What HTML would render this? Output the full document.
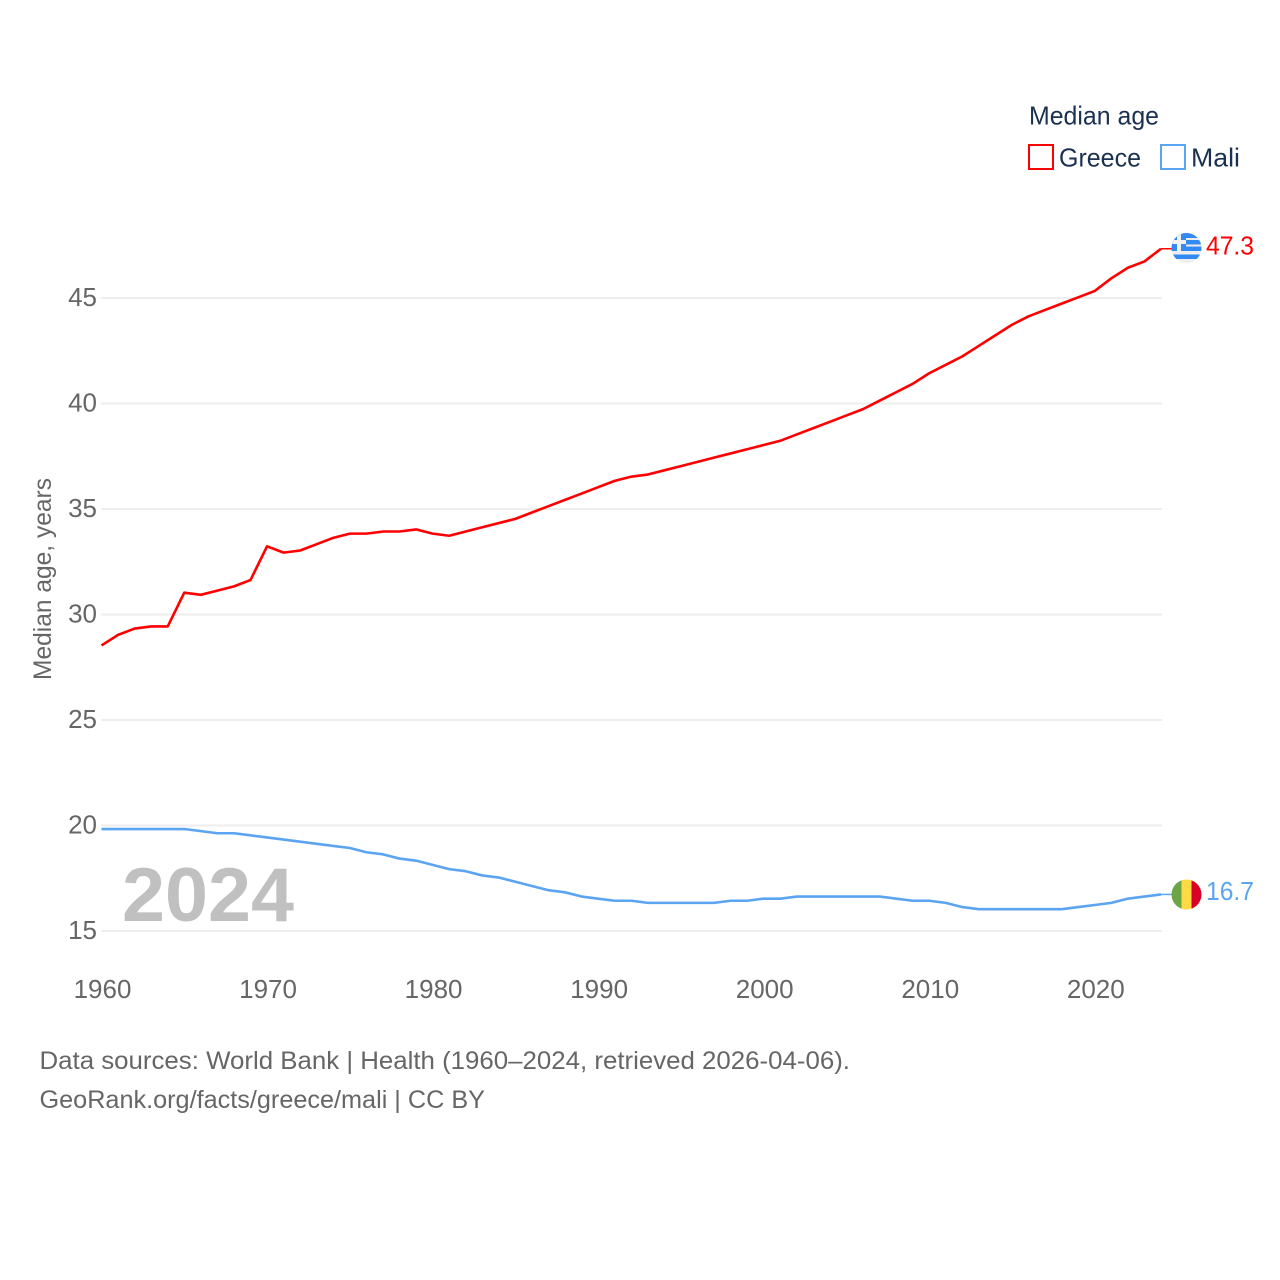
<!DOCTYPE html>
<html lang="en">
<head>
<meta charset="utf-8">
<title>Median age: Greece and Mali</title>
<style>
html,body{margin:0;padding:0;background:#fff;width:1280px;height:1280px;overflow:hidden}
svg{display:block}
text{font-family:"Liberation Sans",sans-serif}
</style>
</head>
<body>
<svg id="chart" width="1280" height="1280" viewBox="0 0 1280 1280" xmlns="http://www.w3.org/2000/svg">
  <defs>
    <clipPath id="flag-clip-gr"><circle cx="1186.5" cy="248" r="15"/></clipPath>
    <clipPath id="flag-clip-ml"><circle cx="1186.5" cy="894.5" r="15"/></clipPath>
  </defs>
  <g id="grid"></g>
  <g id="y-ticks"></g>
  <g id="x-ticks"></g>
  <text x="122" y="921" font-size="76" font-weight="700" fill="#c0c0c0" textLength="172" lengthAdjust="spacingAndGlyphs">2024</text>
  <g id="series"></g>

  <text transform="translate(51,680) rotate(-90)" font-size="25" fill="#666666" textLength="202" lengthAdjust="spacingAndGlyphs">Median age, years</text>

  <g>
    <text x="1029" y="124.5" font-size="26" fill="#1b3150" textLength="130" lengthAdjust="spacingAndGlyphs">Median age</text>
    <g>
      <rect x="1029" y="145" width="24" height="24" fill="none" stroke="#ff0000" stroke-width="2"/>
      <text x="1059" y="166.5" font-size="26" fill="#1b3150" textLength="82" lengthAdjust="spacingAndGlyphs">Greece</text>
    </g>
    <g>
      <rect x="1161" y="145" width="24" height="24" fill="none" stroke="#5ba4f2" stroke-width="2"/>
      <text x="1191" y="166.5" font-size="26" fill="#1b3150" textLength="49" lengthAdjust="spacingAndGlyphs">Mali</text>
    </g>
  </g>

  <g clip-path="url(#flag-clip-gr)">
    <rect x="1171" y="233" width="31" height="30" fill="#eeeeee"/>
    <rect x="1171" y="233" width="31" height="5" fill="#338af3"/>
    <rect x="1171" y="240" width="31" height="4.5" fill="#338af3"/>
    <rect x="1171" y="246.5" width="31" height="4.5" fill="#338af3"/>
    <rect x="1171" y="254.5" width="31" height="4.5" fill="#338af3"/>
    <rect x="1171" y="233" width="15" height="18" fill="#338af3"/>
    <rect x="1177" y="233" width="4" height="18" fill="#f0f0f0"/>
    <rect x="1171" y="240" width="15" height="4" fill="#f0f0f0"/>
  </g>
  <g clip-path="url(#flag-clip-ml)">
    <rect x="1171" y="879" width="10.5" height="31" fill="#6da544"/>
    <rect x="1181.5" y="879" width="10" height="31" fill="#ffda44"/>
    <rect x="1191.5" y="879" width="10.5" height="31" fill="#d80027"/>
  </g>

  <g>
    <text x="39.5" y="1069" font-size="25" fill="#666666" textLength="810.5" lengthAdjust="spacingAndGlyphs">Data sources: World Bank | Health (1960–2024, retrieved 2026-04-06).</text>
    <text x="39.5" y="1108" font-size="25" fill="#666666" textLength="445.5" lengthAdjust="spacingAndGlyphs">GeoRank.org/facts/greece/mali | CC BY</text>
  </g>
</svg>
<script>
const years = [1960,1961,1962,1963,1964,1965,1966,1967,1968,1969,1970,1971,1972,1973,1974,1975,1976,1977,1978,1979,1980,1981,1982,1983,1984,1985,1986,1987,1988,1989,1990,1991,1992,1993,1994,1995,1996,1997,1998,1999,2000,2001,2002,2003,2004,2005,2006,2007,2008,2009,2010,2011,2012,2013,2014,2015,2016,2017,2018,2019,2020,2021,2022,2023,2024];
const greece = [28.5,29.0,29.3,29.4,29.4,31.0,30.9,31.1,31.3,31.6,33.2,32.9,33.0,33.3,33.6,33.8,33.8,33.9,33.9,34.0,33.8,33.7,33.9,34.1,34.3,34.5,34.8,35.1,35.4,35.7,36.0,36.3,36.5,36.6,36.8,37.0,37.2,37.4,37.6,37.8,38.0,38.2,38.5,38.8,39.1,39.4,39.7,40.1,40.5,40.9,41.4,41.8,42.2,42.7,43.2,43.7,44.1,44.4,44.7,45.0,45.3,45.9,46.4,46.7,47.3];
const mali = [19.8,19.8,19.8,19.8,19.8,19.8,19.7,19.6,19.6,19.5,19.4,19.3,19.2,19.1,19.0,18.9,18.7,18.6,18.4,18.3,18.1,17.9,17.8,17.6,17.5,17.3,17.1,16.9,16.8,16.6,16.5,16.4,16.4,16.3,16.3,16.3,16.3,16.3,16.4,16.4,16.5,16.5,16.6,16.6,16.6,16.6,16.6,16.6,16.5,16.4,16.4,16.3,16.1,16.0,16.0,16.0,16.0,16.0,16.0,16.1,16.2,16.3,16.5,16.6,16.7];
const yTicks = [15,20,25,30,35,40,45];
const xTicks = [1960,1970,1980,1990,2000,2010,2020];

const NS = 'http://www.w3.org/2000/svg';
function xScale(year){ return 101.5 + (year - 1960) * (1161 - 101.5) / 64; }
function yScale(v){ return 931 - (v - 15) * (931 - 298) / 30; }
function make(tag, attrs, parent, txt){
  const el = document.createElementNS(NS, tag);
  for (const k in attrs) el.setAttribute(k, attrs[k]);
  if (txt !== undefined) el.textContent = txt;
  parent.appendChild(el);
  return el;
}
const gridG = document.getElementById('grid');
const yG = document.getElementById('y-ticks');
const xG = document.getElementById('x-ticks');
const seriesG = document.getElementById('series');

yTicks.forEach(function(t){
  const line = make('line', {x1:101, x2:1162, y1:yScale(t), y2:yScale(t), stroke:'#eeeeee', 'stroke-width':2}, gridG);
  
  
  const label = make('text', {x:97, y:yScale(t)+8, 'text-anchor':'end', 'font-size':26, fill:'#666666'}, yG, String(t));
  
  
});
xTicks.forEach(function(t){
  const label = make('text', {x:xScale(t)+1, y:998, 'text-anchor':'middle', 'font-size':26, fill:'#666666'}, xG, String(t));
  
  
});
function drawSeries(values, color, name){
  const pts = values.map(function(v,i){ return xScale(years[i]).toFixed(2)+','+(yScale(v)-0.7).toFixed(2); }).join(' ');
  const line = make('polyline', {points:pts, fill:'none', stroke:color, 'stroke-width':2.6, 'stroke-linejoin':'round'}, seriesG);
  
  
  const last = values[values.length-1];
  const lastY = yScale(last) - 0.7;
  const stub = make('line', {x1:xScale(years[years.length-1]), x2:1172, y1:lastY, y2:lastY, stroke:color, 'stroke-width':1.5}, seriesG);
  
  
  const val = make('text', {x:1206, y:lastY+5.5, 'font-size':25.5, fill:color, textLength:48, lengthAdjust:'spacingAndGlyphs'}, seriesG, last.toFixed(1));
  
  
}
drawSeries(greece, '#ff0000', 'greece');
drawSeries(mali, '#5ba4f2', 'mali');
</script>
</body>
</html>
